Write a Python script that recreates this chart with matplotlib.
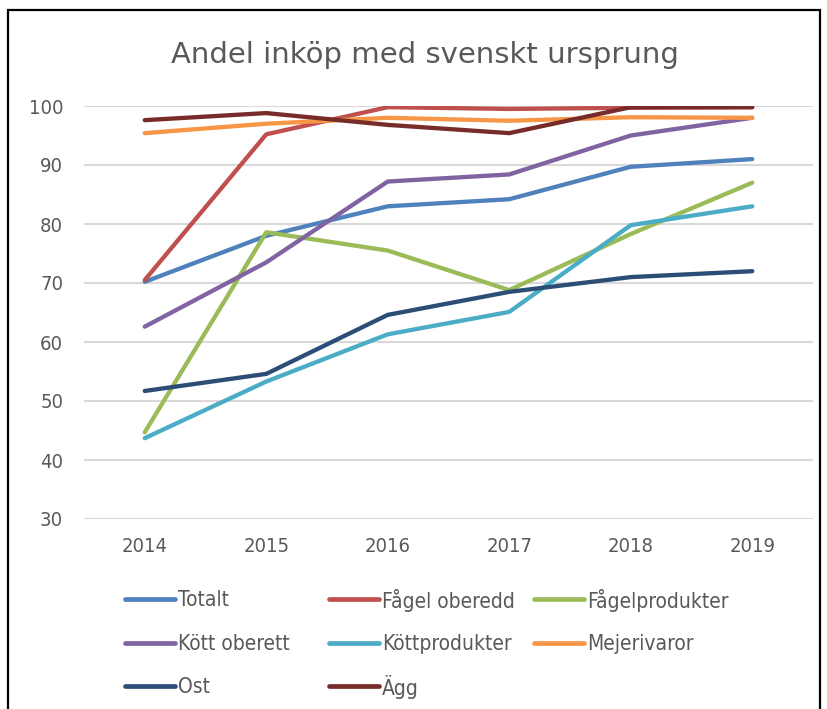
import matplotlib
matplotlib.use("Agg")
import matplotlib.pyplot as plt
from matplotlib.patches import Rectangle
from matplotlib.lines import Line2D

plt.rcParams['font.family'] = ['DejaVu Sans']
plt.rcParams['font.stretch'] = 'condensed'

# data
years = ["2014", "2015", "2016", "2017", "2018", "2019"]
totalt = [70.2, 78.0, 83.0, 84.2, 89.7, 91.0]
fagel_oberedd = [70.5, 95.2, 99.8, 99.5, 99.7, 99.8]
fagelprodukter = [44.7, 78.6, 75.5, 68.8, 78.3, 87.0]
kott_oberett = [62.6, 73.5, 87.2, 88.4, 95.0, 98.0]
kottprodukter = [43.7, 53.3, 61.3, 65.1, 79.8, 83.0]
mejerivaror = [95.4, 97.0, 98.0, 97.5, 98.1, 98.0]
ost = [51.7, 54.6, 64.6, 68.5, 71.0, 72.0]
agg = [97.6, 98.8, 96.8, 95.4, 99.8, 99.8]

series = [
    ("Totalt", totalt, "#4F81BD"),
    ("Fågel oberedd", fagel_oberedd, "#C0504D"),
    ("Fågelprodukter", fagelprodukter, "#9BBB59"),
    ("Kött oberett", kott_oberett, "#8064A2"),
    ("Köttprodukter", kottprodukter, "#4BACC6"),
    ("Mejerivaror", mejerivaror, "#F79646"),
    ("Ost", ost, "#2C4D75"),
    ("Ägg", agg, "#772C2A"),
]

W, H = 828, 709
fig = plt.figure(figsize=(W / 100, H / 100), dpi=100)
ax = fig.add_axes([84/W, 1-519/H, (813-84)/W, (519-106)/H])

x = list(range(len(years)))
for nom, vals, couleur in series:
    ax.plot(x, vals, color=couleur, lw=3.1, solid_capstyle='round',
            solid_joinstyle='round', label=nom)

# axes
ax.set_xlim(-0.5, len(years) - 0.5)
ax.set_ylim(30, 100)
ax.set_yticks(range(30, 101, 10))
ax.set_xticks(x)
ax.set_xticklabels(years)
ax.grid(axis='y', color='#D9D9D9', lw=1.5)
ax.set_axisbelow(True)
for s in ax.spines.values():
    s.set_visible(False)
ax.tick_params(length=0, labelsize=14.5, labelcolor='#595959')
ax.tick_params(axis='y', pad=15)
ax.tick_params(axis='x', pad=13)

fig.text(0.513, 1-55/H, "Andel inköp med svenskt ursprung", ha='center',
         va='center', fontsize=21, color='#595959', fontstretch='normal')

# legende, remplie ligne par ligne comme dans Excel
col_x = [125, 329, 534]
row_y = [599, 643, 686]
for i, (nom, vals, couleur) in enumerate(series):
    x0 = col_x[i % 3]
    y0 = 1 - row_y[i // 3] / H
    fig.add_artist(Line2D([x0/W, (x0+50)/W], [y0, y0], color=couleur, lw=3.4,
                          solid_capstyle='round', transform=fig.transFigure))
    fig.text((x0+53)/W, y0 + 1/H, nom, ha='left', va='center_baseline',
             fontsize=15, color='#595959')

# cadre
fig.patches.append(Rectangle((8/W, -0.05), (820-8)/W, 1.05-10/H,
                             transform=fig.transFigure, fill=False,
                             edgecolor='black', lw=1.6))

fig.savefig("out.png", dpi=100)
